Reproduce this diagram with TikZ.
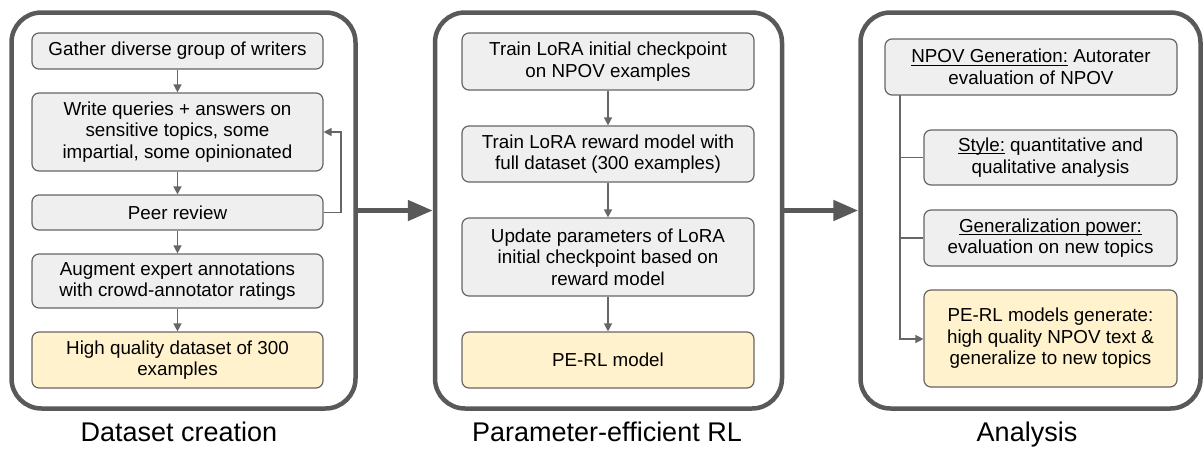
\documentclass[tikz,border=0pt]{standalone}
\usepackage{fontspec}
\setmainfont{Liberation Sans}
\usetikzlibrary{arrows.meta}
\definecolor{boxfill}{HTML}{EFEFEF}
\definecolor{yelfill}{HTML}{FFF2CC}
\definecolor{lin}{HTML}{666666}
\definecolor{panel}{HTML}{595959}
\tikzset{
  stepbox/.style={draw=lin, line width=1.2pt, fill=boxfill, rounded corners=7pt, align=center, inner sep=0pt,
    font=\fontsize{18.8}{21.5}\selectfont},
  yelbox/.style={stepbox, fill=yelfill},
  panelbox/.style={draw=panel, line width=4.5pt, rounded corners=30pt, fill=none},
  thin arrow/.style={draw=lin, line width=1.4pt, -{Triangle[length=8pt,width=8pt]}},
  thin line/.style={draw=lin, line width=1.4pt},
  big arrow/.style={draw=panel, line width=5pt, -{Triangle[length=25pt,width=20pt]}},
  caption/.style={font=\fontsize{27}{30}\selectfont, inner sep=0pt, anchor=base}
}
\newcommand{\myul}[1]{\setbox0\hbox{#1}\rlap{\rule[-2.6pt]{\wd0}{1pt}}\box0\relax}
\begin{document}
\begin{tikzpicture}[x=1pt,y=-1pt]
\useasboundingbox (0,0) rectangle (1203,448);
% panels
\node[panelbox, minimum width=344pt, minimum height=396pt, inner sep=0pt] (p1) at (183.5,210.5) {};
\node[panelbox, minimum width=347pt, minimum height=396pt, inner sep=0pt] (p2) at (608.5,210.5) {};
\node[panelbox, minimum width=340pt, minimum height=396pt, inner sep=0pt] (p3) at (1030.5,210.5) {};
% captions
\node[caption] (cap1) at (179,441) {Dataset creation};
\node[caption] (cap2) at (607,441) {Parameter-efficient RL};
\node[caption] (cap3) at (1027,441) {Analysis};
% panel 1
\node[stepbox, minimum width=291pt, minimum height=36pt] (b1) at (177.5,51) {Gather diverse group of writers};
\node[stepbox, minimum width=291pt, minimum height=78pt] (b2) at (177.5,132) {Write queries + answers on\\sensitive topics, some\\impartial, some opinionated};
\node[stepbox, minimum width=291pt, minimum height=35pt] (b3) at (177.5,212.5) {Peer review};
\node[stepbox, minimum width=291pt, minimum height=54pt] (b4) at (177.5,281) {Augment expert annotations\\with crowd-annotator ratings};
\node[yelbox, minimum width=291pt, minimum height=56pt] (b5) at (177.5,360) {High quality dataset of 300\\examples};
\draw[thin arrow] (b1) -- (b2);
\draw[thin arrow] (b2) -- (b3);
\draw[thin arrow] (b3) -- (b4);
\draw[thin arrow] (b4) -- (b5);
\coordinate (fb1) at (341,212.5);
\coordinate (fb2) at (341,132);
\draw[thin arrow] (b3.east) -- (fb1) -- (fb2) -- (b2.east);
% panel 2
\node[stepbox, minimum width=292pt, minimum height=57pt] (c1) at (608,61.5) {Train LoRA initial checkpoint\\on NPOV examples};
\node[stepbox, minimum width=292pt, minimum height=56pt] (c2) at (608,154) {Train LoRA reward model with\\full dataset (300 examples)};
\node[stepbox, minimum width=292pt, minimum height=78pt] (c3) at (608,257) {Update parameters of LoRA\\initial checkpoint based on\\reward model};
\node[yelbox, minimum width=292pt, minimum height=56pt] (c4) at (608,360) {PE-RL model};
\draw[thin arrow] (c1) -- (c2);
\draw[thin arrow] (c2) -- (c3);
\draw[thin arrow] (c3) -- (c4);
% panel 3
\node[stepbox, minimum width=292pt, minimum height=56pt] (d1) at (1031,67) {\myul{NPOV Generation:} Autorater\\evaluation of NPOV};
\node[stepbox, minimum width=253pt, minimum height=55pt] (d2) at (1050.5,157.5) {\myul{Style:} quantitative and\\qualitative analysis};
\node[stepbox, minimum width=253pt, minimum height=56pt] (d3) at (1050.5,238) {\myul{Generalization power:}\\evaluation on new topics};
\node[yelbox, minimum width=253pt, minimum height=97pt] (d4) at (1050.5,338.5) {PE-RL models generate:\\high quality NPOV text \&\\generalize to new topics};
\coordinate (t0) at (900,95);
\coordinate (t1) at (900,157.5);
\coordinate (t2) at (900,238);
\coordinate (t3) at (900,339);
\draw[thin arrow] (t0) -- (t3) -- (d4.west |- t3);
\draw[thin line] (t1) -- (d2.west);
\draw[thin line] (t2) -- (d3.west);
% big arrows
\draw[big arrow] (p1.east) -- (p2.west);
\draw[big arrow] (p2.east) -- (p3.west);
\end{tikzpicture}
\end{document}
